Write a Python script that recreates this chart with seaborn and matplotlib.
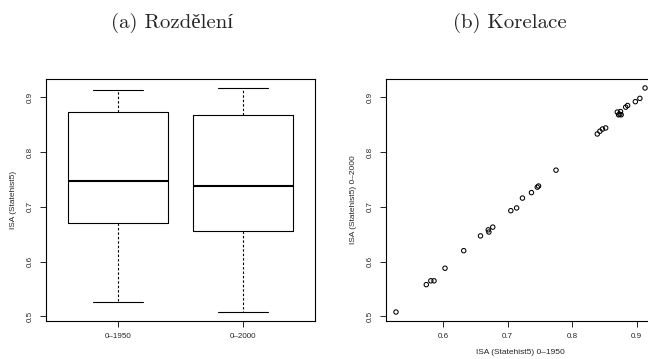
import numpy as np
import pandas as pd
import matplotlib
matplotlib.use("Agg")
import matplotlib.pyplot as plt
import seaborn as sns

# ISA index per state (Statehist5), two accumulation periods
isa_1950 = [0.527, 0.574, 0.581, 0.586, 0.603, 0.632, 0.658, 0.670, 0.671, 0.677,
            0.705, 0.714, 0.723, 0.737, 0.746, 0.748, 0.775, 0.839, 0.843, 0.847,
            0.852, 0.870, 0.872, 0.874, 0.875, 0.876, 0.883, 0.886, 0.898, 0.905,
            0.913]
isa_2000 = [0.508, 0.558, 0.565, 0.565, 0.588, 0.620, 0.647, 0.658, 0.654, 0.663,
            0.693, 0.698, 0.716, 0.726, 0.736, 0.738, 0.767, 0.833, 0.838, 0.842,
            0.844, 0.873, 0.868, 0.869, 0.874, 0.868, 0.882, 0.885, 0.892, 0.898,
            0.917]
periods = ["0–1950", "0–2000"]
y_ticks = [0.5, 0.6, 0.7, 0.8, 0.9]
x_ticks = [0.6, 0.7, 0.8, 0.9]
titles = ["(a) Rozdělení", "(b) Korelace"]
box_ylabel = "ISA (Statehist5)"
sc_xlabel = "ISA (Statehist5) 0–1950"
sc_ylabel = "ISA (Statehist5) 0–2000"

sns.set_theme(style="white")
plt.rcParams["font.family"] = ["Liberation Sans", "DejaVu Sans"]
plt.rcParams["axes.edgecolor"] = "black"
plt.rcParams["axes.linewidth"] = 0.8

W, H = 648, 359
fig = plt.figure(figsize=(W / 100, H / 100), dpi=100)


def px_axes(left, top, right, bottom):
    return fig.add_axes([left / W, 1 - bottom / H, (right - left) / W, (bottom - top) / H])


def r_lim(vals):
    lo, hi = min(vals), max(vals)
    pad = 0.04 * (hi - lo)
    return lo - pad, hi + pad


tick_fs = 5.8
label_fs = 6.0

# ---- (a) box plots ----
ax1 = px_axes(46, 79, 315, 321)
long = pd.DataFrame({
    "period": [periods[0]] * len(isa_1950) + [periods[1]] * len(isa_2000),
    "isa": isa_1950 + isa_2000,
})
sns.boxplot(data=long, x="period", y="isa", ax=ax1, order=periods, width=0.8,
            fill=False, color="black", linewidth=0.8,
            medianprops=dict(linewidth=1.5),
            whiskerprops=dict(linestyle=(0, (2.2, 1.8))))
ax1.set_xlim(-0.58, 1.58)
ax1.set_ylim(*r_lim(isa_1950 + isa_2000))

# ---- (b) scatter ----
ax2 = px_axes(386, 79, 655, 321)
sns.scatterplot(x=isa_1950, y=isa_2000, ax=ax2, marker="o", s=10,
                facecolor="none", edgecolor="black", linewidth=0.75)
ax2.set_xlim(*r_lim(isa_1950))
ax2.set_ylim(*r_lim(isa_2000))
ax2.set_xticks(x_ticks)
ax2.set_xticklabels([f"{t:.1f}" for t in x_ticks])

for ax in (ax1, ax2):
    ax.set_yticks(y_ticks)
    ax.set_yticklabels([f"{t:.1f}" for t in y_ticks], rotation=90, va="center")
    ax.tick_params(axis="both", which="major", direction="out", length=4,
                   width=0.6, color="black", labelsize=tick_fs, pad=4.5,
                   left=True, bottom=True)
    for s in ax.spines.values():
        s.set_color("black")
        s.set_linewidth(0.8)
    ax.grid(False)

ax1.set_xlabel("")
ax1.set_ylabel(box_ylabel, fontsize=label_fs)
ax1.yaxis.set_label_coords(-0.108, 0.5)

ax2.set_xlabel(sc_xlabel, fontsize=label_fs)
ax2.xaxis.set_label_coords(0.5, -0.114)
ax2.set_ylabel(sc_ylabel, fontsize=label_fs)
ax2.yaxis.set_label_coords(-0.108, 0.5)

for xc, t in zip([172, 510], titles):
    fig.text(xc / W, 1 - 22.5 / H, t, ha="center", va="center", fontsize=15,
             family=["cmr10", "Liberation Serif"])

fig.savefig("out.png", dpi=100)
